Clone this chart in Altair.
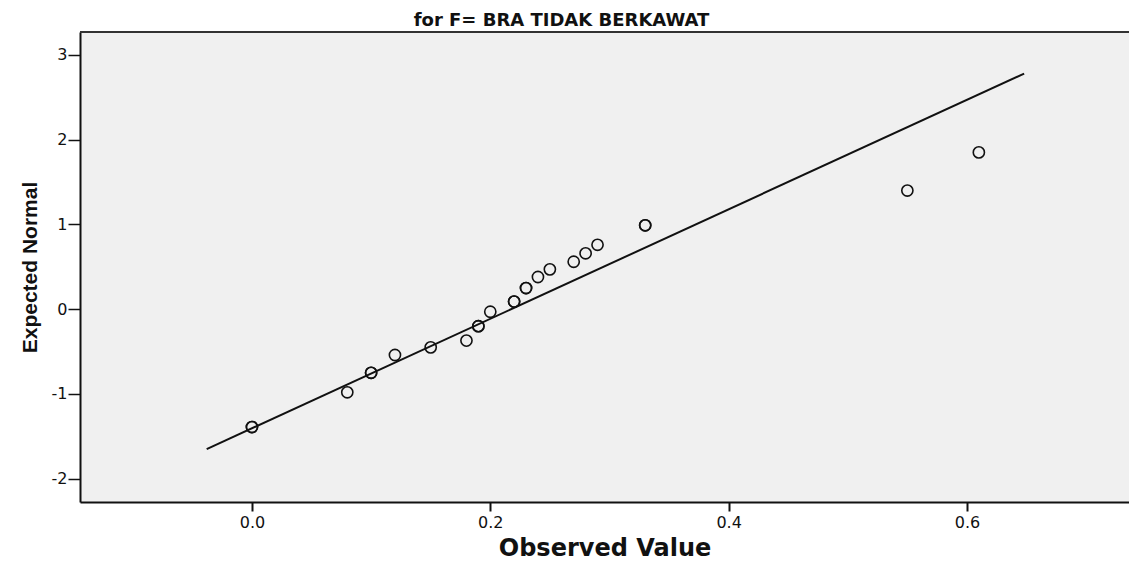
import altair as alt
import pandas as pd

# Observed values and their expected normal scores (duplicates repeated)
obs = [0.00, 0.00, 0.08, 0.10, 0.10, 0.12, 0.15, 0.18, 0.19, 0.19, 0.20,
       0.22, 0.22, 0.23, 0.23, 0.24, 0.25, 0.27, 0.28, 0.29, 0.33, 0.33,
       0.55, 0.61]
expected = [-1.39, -1.39, -0.98, -0.75, -0.75, -0.54, -0.45, -0.37, -0.20, -0.20, -0.03,
            0.09, 0.09, 0.25, 0.25, 0.38, 0.47, 0.56, 0.66, 0.76, 0.99, 0.99,
            1.40, 1.85]

# Reference line end points
line_x = [-0.038, 0.648]
line_y = [-1.65, 2.78]

x_ticks = [0.0, 0.2, 0.4, 0.6]
y_ticks = [-2, -1, 0, 1, 2, 3]

pts = pd.DataFrame({"obs": obs, "exp": expected})
ln = pd.DataFrame({"obs": line_x, "exp": line_y})

W, H = 1049, 470

xscale = alt.Scale(domain=[-0.1443, 0.736], nice=False, zero=False)
yscale = alt.Scale(domain=[-2.274, 3.270], nice=False, zero=False)

xaxis = alt.Axis(
    title="Observed Value", values=x_ticks, format=".1f", grid=False,
    domain=True, domainColor="#111", domainWidth=2,
    tickSize=9, tickWidth=2, tickColor="#111", labelPadding=3,
    labelFont="DejaVu Sans", labelFontSize=16, labelColor="#111",
    titleFont="DejaVu Sans", titleFontSize=24, titleFontWeight="bold", titleColor="#111",
    titleY=58, titleBaseline="bottom",
)
yaxis = alt.Axis(
    title="Expected Normal", values=y_ticks, grid=False,
    domain=True, domainColor="#111", domainWidth=2,
    labelExpr="toString(datum.value)",
    tickSize=12, tickWidth=1.5, tickColor="#111", labelPadding=1,
    labelFont="DejaVu Sans", labelFontSize=16, labelColor="#111",
    titleFont="Liberation Sans", titleFontSize=21,
    titleFontWeight="bold", titleColor="#111",
    titleX=-44, titleBaseline="alphabetic", titleAngle=270,
)

# top frame edge
top_border = alt.Chart(pd.DataFrame({"k": [0]})).mark_rule(
    color="#333", strokeWidth=2
).encode(x=alt.value(0), x2=alt.value(W), y=alt.value(0))

line = alt.Chart(ln).mark_line(color="#111", strokeWidth=2).encode(
    x=alt.X("obs:Q", scale=xscale, axis=xaxis),
    y=alt.Y("exp:Q", scale=yscale, axis=yaxis),
)
points = alt.Chart(pts).mark_point(
    shape="circle", filled=False, color="#111", size=125, strokeWidth=1.6, opacity=1
).encode(
    x=alt.X("obs:Q", scale=xscale),
    y=alt.Y("exp:Q", scale=yscale),
)

chart = alt.layer(line, points, top_border).properties(
    width=W, height=H,
    background="white",
    autosize=alt.AutoSizeParams(type="none"),
    padding={"left": 72, "top": 24, "right": 0, "bottom": 59},
    title=alt.Title("for F= BRA TIDAK BERKAWAT", font="DejaVu Sans", fontSize=18,
                    fontWeight="bold", color="#111", anchor="middle", dx=-43,
                    offset=1),
).configure_view(
    fill="#f0f0f0", stroke=None
)

chart.save("out.html", embed_options={"renderer": "svg", "actions": False})
